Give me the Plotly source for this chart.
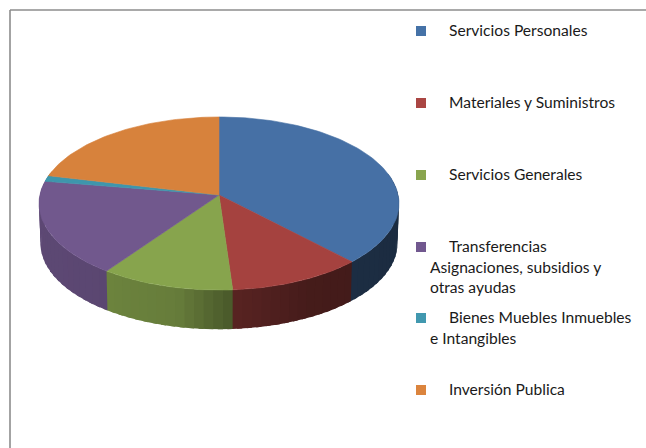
import math
import plotly.graph_objects as go

# ---- data ----
categories = ["Servicios Personales", "Materiales y Suministros", "Servicios Generales",
              "Transferencias Asignaciones, subsidios y otras ayudas",
              "Bienes Muebles Inmuebles e Intangibles", "Inversión Publica"]
values = [37.9, 11.0, 10.9, 17.8, 1.1, 21.3]
legend_lines = [["Servicios Personales"], ["Materiales y Suministros"], ["Servicios Generales"],
                ["Transferencias", "Asignaciones, subsidios y", "otras ayudas"],
                ["Bienes Muebles Inmuebles", "e Intangibles"], ["Inversión Publica"]]

# ---- style ----
top_colors = [(70, 112, 165), (165, 66, 63), (135, 164, 77), (113, 88, 141), (62, 150, 172), (215, 130, 60)]
sw_colors = ["#4572A7", "#AA4643", "#89A54E", "#71588F", "#4198AF", "#DB843D"]
FONT = "Lato"
FS = 15.6
INK = "#1a1a1a"
CX, CY, A, B, K, DEPTH, SCALE = 219.0, 195.0, 85.7, 179.1, 0.0983, 40.0, 0.992


def project(theta, z=0.0):
    u, v = math.sin(theta), -math.cos(theta)
    w = 1 - K * v
    s = SCALE if z else 1.0
    return CX + s * B * u / w, CY + z + s * A * v / w


def shade(x):
    t = max(0.0, min(1.0, (x - 40.0) / 360.0))
    knots = [(0.0, 0.82), (0.18, 0.80), (0.38, 0.76), (0.53, 0.54), (0.75, 0.42), (1.0, 0.39)]
    for (t0, f0), (t1, f1) in zip(knots, knots[1:]):
        if t <= t1:
            return f0 + (f1 - f0) * (t - t0) / (t1 - t0)
    return knots[-1][1]


fig = go.Figure()
total = sum(values)
edges = [0.0]
for val in values:
    edges.append(edges[-1] + val / total * 2 * math.pi)

# side walls: each strip overlaps the next one so no seams show
W0, W1 = math.radians(75), math.radians(285)
STEP = math.radians(3)
OVERLAP = math.radians(1.5)
for i, col in enumerate(top_colors):
    a, b = max(edges[i], W0), min(edges[i + 1], W1)
    if b <= a:
        continue
    n = max(1, int(math.ceil((b - a) / STEP)))
    for j in range(n):
        t0, t1 = a + (b - a) * j / n, a + (b - a) * (j + 1) / n
        f = shade(project((t0 + t1) / 2)[0])
        t1 = t1 + OVERLAP
        ts = [t0, (t0 + t1) / 2, t1]
        top = [project(t) for t in ts]
        bot = [project(t, DEPTH) for t in reversed(ts)]
        c = "rgb(%d,%d,%d)" % tuple(round(ch * f) for ch in col)
        pts = top + bot + [top[0]]
        fig.add_trace(go.Scatter(x=[p[0] for p in pts], y=[p[1] for p in pts], mode="lines",
                                 fill="toself", fillcolor=c, line=dict(width=0),
                                 hoverinfo="skip", showlegend=False))

# top faces
for i, col in enumerate(top_colors):
    a, b = edges[i], edges[i + 1]
    n = max(2, int((b - a) / math.radians(1.5)))
    pts = [(CX, CY)] + [project(a + (b - a) * j / n) for j in range(n + 1)] + [(CX, CY)]
    c = "rgb(%d,%d,%d)" % col
    fig.add_trace(go.Scatter(x=[p[0] for p in pts], y=[p[1] for p in pts], mode="lines",
                             fill="toself", fillcolor=c, line=dict(color=c, width=0.6),
                             name=categories[i], showlegend=False))

# legend
legend_y = [30, 102, 174, 246, 317, 389]
LINE_H = 20.5
fig.add_trace(go.Scatter(x=[421] * len(legend_y), y=[31, 103, 175, 247, 318, 390], mode="markers",
                         marker=dict(symbol="square", size=10, color=sw_colors, line=dict(width=0)),
                         hoverinfo="skip", showlegend=False))
annotations = []
for y0, lines in zip(legend_y, legend_lines):
    for k, line in enumerate(lines):
        x0 = 447 if k == 0 else 428
        annotations.append(dict(x=x0, y=y0 + k * LINE_H, text=line, xref="x", yref="y", xanchor="left",
                                yanchor="middle", showarrow=False,
                                font=dict(family=FONT, size=FS, color=INK)))

frame = "#8c8c8c"
shapes = [
    dict(type="line", x0=10, x1=646, y0=10, y1=10, xref="x", yref="y", line=dict(color=frame, width=1.6), layer="below"),
    dict(type="line", x0=10, x1=10, y0=10, y1=448, xref="x", yref="y", line=dict(color=frame, width=1.6), layer="below"),
]

fig.update_layout(
    width=646, height=448, margin=dict(l=0, r=0, t=0, b=0), paper_bgcolor="white", plot_bgcolor="white",
    xaxis=dict(range=[0, 646], visible=False, fixedrange=True),
    yaxis=dict(range=[448, 0], visible=False, fixedrange=True),
    annotations=annotations, shapes=shapes, showlegend=False,
)
fig.write_html("out.html", config={"displayModeBar": False}, post_script="document.body.style.margin='0';")
